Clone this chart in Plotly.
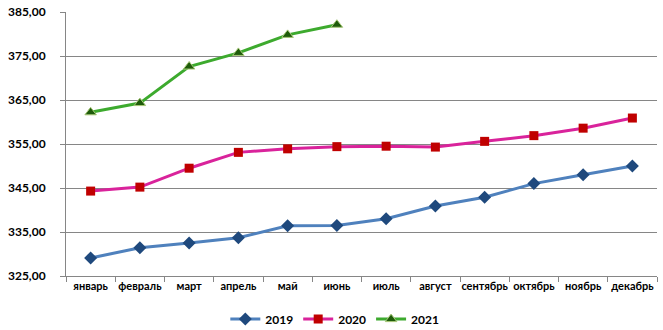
import plotly.graph_objects as go

months = ["январь", "февраль", "март", "апрель", "май", "июнь",
          "июль", "август", "сентябрь", "октябрь", "ноябрь", "декабрь"]
y2019 = [329.1, 331.4, 332.5, 333.7, 336.4, 336.5, 338.0, 340.9, 342.9, 346.0, 348.0, 350.0]
y2020 = [344.3, 345.2, 349.5, 353.1, 353.9, 354.4, 354.5, 354.3, 355.6, 356.9, 358.6, 360.9]
y2021 = [362.2, 364.3, 372.6, 375.7, 379.8, 382.1]
yticks = [325, 335, 345, 355, 365, 375, 385]

fig = go.Figure()
fig.add_trace(go.Scatter(x=months, y=y2019, name="2019", mode="lines+markers",
                         line=dict(color="#4F81BD", width=3),
                         marker=dict(symbol="diamond", size=10, color="#1F497D")))
fig.add_trace(go.Scatter(x=months, y=y2020, name="2020", mode="lines+markers",
                         line=dict(color="#D9239B", width=3),
                         marker=dict(symbol="square", size=9, color="#C00000")))
fig.add_trace(go.Scatter(x=months[:len(y2021)], y=y2021, name="2021", mode="lines+markers",
                         line=dict(color="#3DAA2E", width=3),
                         marker=dict(symbol="triangle-up", size=10, color="#1E5B0A",
                                     line=dict(color="#A8C878", width=1))))

fig.update_layout(
    width=663, height=330,
    margin=dict(l=66, r=6, t=12, b=54, autoexpand=False),
    paper_bgcolor="white", plot_bgcolor="white",
    separators=", ",
    font=dict(family="Lato", size=11, color="#000000"),
    showlegend=True,
    legend=dict(orientation="h", xref="container", x=0.505, xanchor="center",
                yref="container", y=0.033, yanchor="middle",
                font=dict(family="Lato", size=12, weight="bold"),
                itemwidth=30, tracegroupgap=0),
)
fig.update_xaxes(
    type="category", categoryorder="array", categoryarray=months,
    showline=True, linecolor="#868686", linewidth=1,
    ticks="outside", tickson="boundaries", ticklen=5, tickcolor="#868686",
    showgrid=False, tickangle=0, automargin=False,
    tickfont=dict(family="Lato", size=11, weight="bold"),
    range=[-0.5, 11.5],
)
fig.update_yaxes(
    range=[325, 385], tickvals=yticks, tickformat=".2f",
    showline=True, linecolor="#868686", linewidth=1,
    ticks="outside", ticklen=5, tickcolor="#868686",
    showgrid=True, gridcolor="#868686", gridwidth=1,
    zeroline=False, automargin=False,
    ticklabelstandoff=12,
    tickfont=dict(family="Lato", size=12, weight="bold"),
)

fig.write_html("out.html")
